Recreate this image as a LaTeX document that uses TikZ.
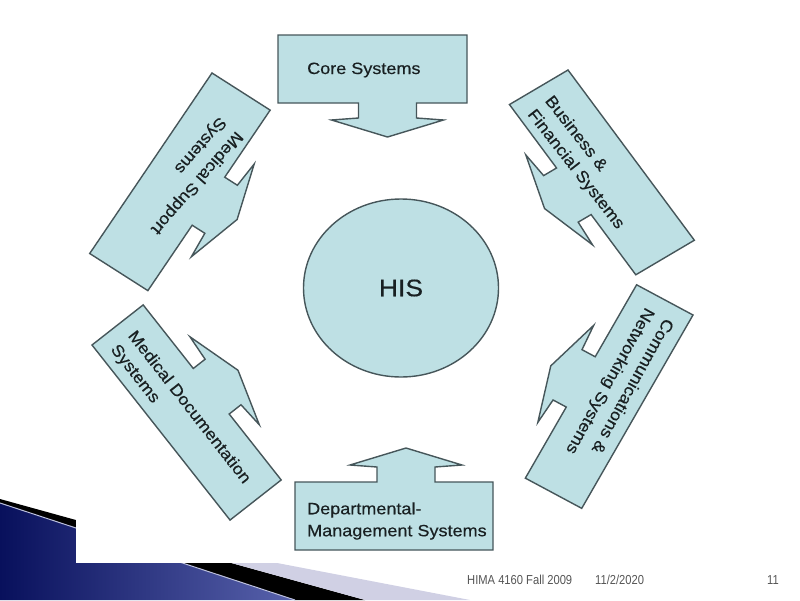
\documentclass[tikz,border=0pt]{standalone}
\usepackage{fontspec}
\setmainfont{Liberation Sans}[FakeStretch=1.1, FakeBold=0.4]
\newfontfamily\footfont{Liberation Sans}[FakeStretch=0.86]
\usetikzlibrary{shapes.geometric}

\definecolor{boxfill}{RGB}{190,224,228}
\definecolor{boxline}{RGB}{70,86,90}
\definecolor{boxtext}{RGB}{25,32,34}
\definecolor{navy}{RGB}{8,16,92}
\definecolor{swooshblue}{RGB}{88,98,172}
\definecolor{lavender}{RGB}{208,208,228}
\definecolor{footgray}{RGB}{85,85,85}

% one box with its arrow: length, depth, arrow centre
\newcommand{\arrowbox}[3]{%
  \filldraw [panel] (0,0)--(#1,0)--(#1,#2)--({#3+29},#2)--({#3+29},{#2+15})--({#3+56},{#2+17})--(#3,{#2+34})--({#3-56},{#2+17})--({#3-29},{#2+15})--({#3-29},#2)--(0,#2)--cycle;}

\begin{document}
\begin{tikzpicture}[x=1pt, y=-1pt,
  panel/.style={fill=boxfill, draw=boxline, line width=1.4pt},
  paneltext/.style={font=\fontsize{16.4}{22}\selectfont, text=boxtext, align=left, inner sep=0pt},
  foottext/.style={font=\footfont\fontsize{13}{15}\selectfont, text=footgray, inner sep=0pt}]

\useasboundingbox (0,0) rectangle (800,600);

% slide corner
\shade [left color=navy, right color=swooshblue] (0,503)--(295,600)--(0,600)--cycle;
\fill [black] (0,499)--(365,600)--(295,600)--(0,503)--cycle;
\fill [lavender] (128,534.4)--(470,600)--(365,600)--cycle;
\draw [white!60!swooshblue, line width=1pt] (0,503)--(295,600);
\fill [white] (76,470) rectangle (720,563);

% core systems
\begin{scope}[shift={(278,35)}, x={(1pt,0pt)}, y={(0pt,-1pt)}]
  \arrowbox{189}{68}{109.5}
\end{scope}
% business
\begin{scope}[shift={(568,70)}, x={(0.596pt,-0.803pt)}, y={(-0.861pt,-0.508pt)}]
  \arrowbox{212}{68}{108}
\end{scope}
% communications
\begin{scope}[shift={(693,315)}, x={(-0.499pt,-0.867pt)}, y={(-0.881pt,0.472pt)}]
  \arrowbox{223}{64}{112}
\end{scope}
% departmental
\begin{scope}[shift={(295,550)}, x={(1pt,0pt)}, y={(0pt,1pt)}]
  \arrowbox{198}{68}{111}
\end{scope}
% medical documentation
\begin{scope}[shift={(92,345)}, x={(0.619pt,-0.785pt)}, y={(0.787pt,0.617pt)}]
  \arrowbox{223}{65}{110}
\end{scope}
% medical support
\begin{scope}[shift={(212,73)}, x={(-0.561pt,-0.828pt)}, y={(0.843pt,-0.538pt)}]
  \arrowbox{218}{69}{110}
\end{scope}

\node [ellipse, draw=boxline, fill=boxfill, line width=1.4pt, minimum width=195pt, minimum height=178pt,
  font=\fontsize{24}{28}\selectfont, text=boxtext] (his) at (401,288) {HIS};

\node [paneltext, anchor=west] (core) at (307,70) {Core Systems};
\node [paneltext, anchor=west, rotate=-52] (business) at (539,105) {Business \&\\Financial Systems};
\node [paneltext, anchor=west, rotate=-119] (comms) at (659,314) {Communications \&\\Networking Systems};
\node [paneltext, anchor=west] (dept) at (307,521) {Departmental-\\Management Systems};
\node [paneltext, anchor=west, rotate=-52] (meddoc) at (122,340) {Medical Documentation\\Systems};
\node [paneltext, anchor=west, rotate=-131] (medsup) at (231,126) {Medical Support\\Systems};

\node [foottext, anchor=west] (course) at (467,580) {HIMA 4160 Fall 2009};
\node [foottext, anchor=west] (date) at (595,580) {11/2/2020};
\node [foottext, anchor=east] (slideno) at (779,580) {11};
\end{tikzpicture}
\end{document}
